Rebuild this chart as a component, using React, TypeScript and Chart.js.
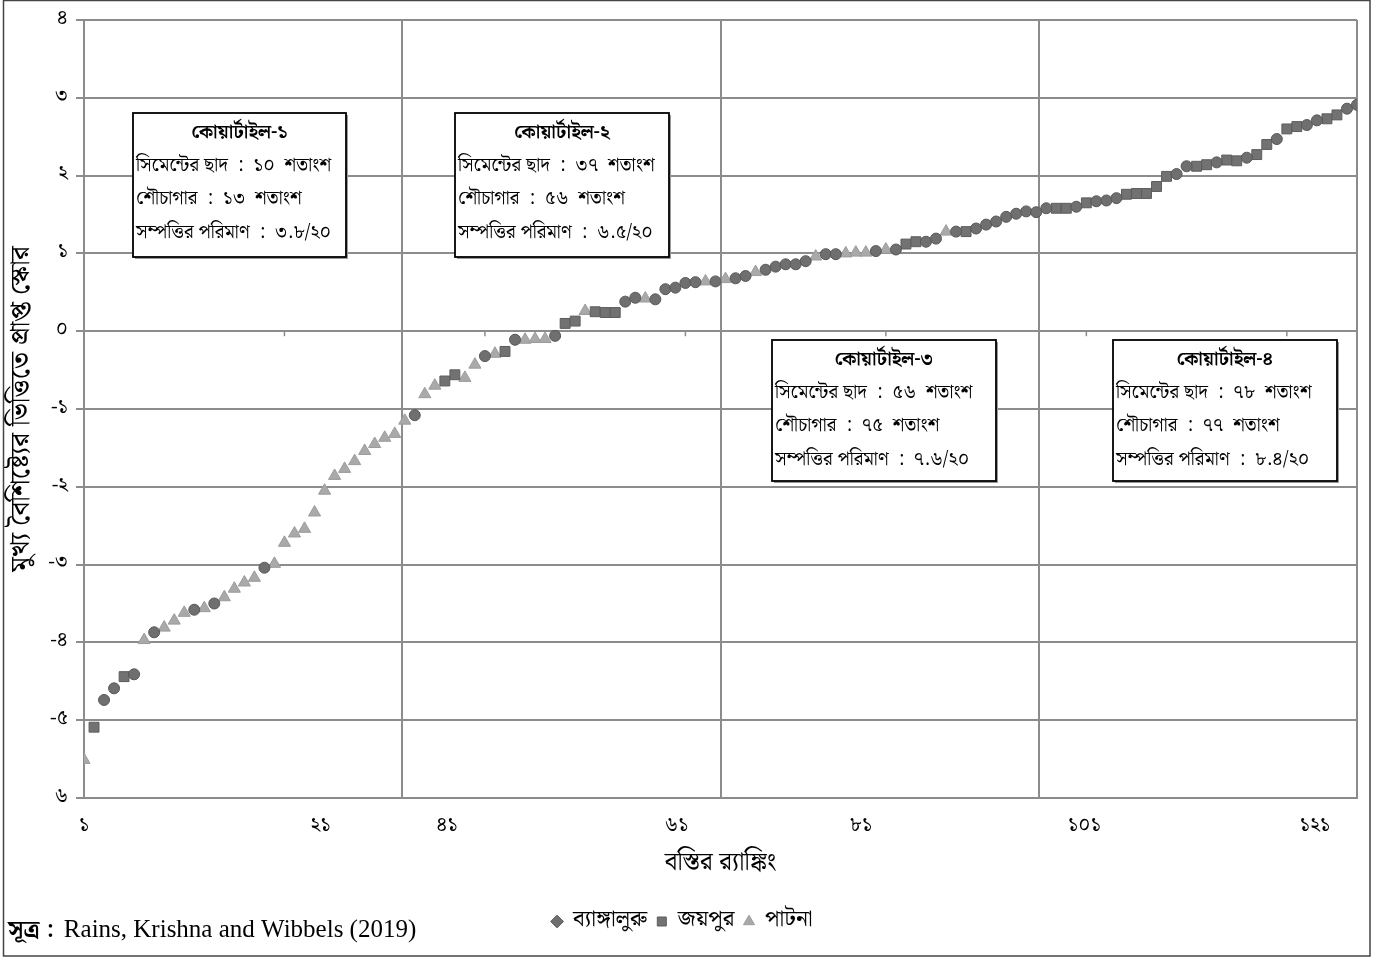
import React, { useEffect, useRef } from 'react';
import { Chart, registerables } from 'chart.js';

Chart.register(...registerables);

const BN = "'Noto Serif Bengali','Noto Sans Bengali','Lohit Bengali','FreeSerif','Noto Sans',sans-serif";
const SERIF = "'Liberation Serif','DejaVu Serif',serif";

// Cities (series)
const seriesNames = ['ব্যাঙ্গালুরু', 'জয়পুর', 'পাটনা'];
const seriesCodes = ['B', 'J', 'P'];

// Score for each slum, in rank order (rank 1 .. 128)
const rankScores = [
  -5.51, -5.09, -4.74, -4.59, -4.44, -4.41, -3.97, -3.87, -3.81, -3.72,
  -3.62, -3.58, -3.56, -3.5, -3.42, -3.31, -3.23, -3.17, -3.04, -2.99,
  -2.72, -2.6, -2.54, -2.33, -2.05, -1.86, -1.77, -1.67, -1.54, -1.45,
  -1.37, -1.32, -1.15, -1.08, -0.81, -0.7, -0.64, -0.56, -0.6, -0.43,
  -0.32, -0.29, -0.26, -0.11, -0.11, -0.1, -0.1, -0.06, 0.1, 0.13,
  0.26, 0.25, 0.24, 0.24, 0.38, 0.43, 0.42, 0.41, 0.54, 0.56,
  0.62, 0.63, 0.64, 0.64, 0.67, 0.68, 0.71, 0.76, 0.79, 0.83,
  0.86, 0.86, 0.9, 0.96, 0.99, 0.99, 1.0, 1.01, 1.01, 1.03,
  1.05, 1.05, 1.12, 1.15, 1.15, 1.19, 1.28, 1.28, 1.28, 1.32,
  1.37, 1.41, 1.47, 1.51, 1.54, 1.53, 1.58, 1.58, 1.58, 1.6,
  1.65, 1.67, 1.68, 1.71, 1.76, 1.77, 1.77, 1.86, 1.99, 2.02,
  2.12, 2.12, 2.14, 2.17, 2.2, 2.19, 2.23, 2.27, 2.4, 2.47,
  2.6, 2.63, 2.65, 2.71, 2.73, 2.78, 2.86, 2.91,
];

// City of each slum, in rank order
const rankCity = [
  'P', 'J', 'B', 'B', 'J', 'B', 'P', 'B', 'P', 'P',
  'P', 'B', 'P', 'B', 'P', 'P', 'P', 'P', 'B', 'P',
  'P', 'P', 'P', 'P', 'P', 'P', 'P', 'P', 'P', 'P',
  'P', 'P', 'P', 'B', 'P', 'P', 'J', 'J', 'P', 'P',
  'B', 'P', 'J', 'B', 'P', 'P', 'P', 'B', 'J', 'J',
  'P', 'J', 'J', 'J', 'B', 'B', 'P', 'B', 'B', 'B',
  'B', 'B', 'P', 'B', 'P', 'B', 'B', 'P', 'B', 'B',
  'B', 'B', 'B', 'P', 'B', 'B', 'P', 'P', 'P', 'B',
  'P', 'B', 'J', 'J', 'B', 'B', 'P', 'B', 'J', 'B',
  'B', 'B', 'B', 'B', 'B', 'B', 'B', 'J', 'J', 'B',
  'J', 'B', 'B', 'B', 'J', 'J', 'J', 'J', 'J', 'B',
  'B', 'J', 'J', 'B', 'J', 'J', 'B', 'J', 'J', 'B',
  'J', 'J', 'B', 'B', 'J', 'J', 'B', 'B',
];

// Axis ticks
const yTickValues = [4, 3, 2, 1, 0, -1, -2, -3, -4, -5, -6];
const yTickLabels = ['৪', '৩', '২', '১', '০', '-১', '-২', '-৩', '-৪', '-৫', '৬'];
const xGridValues = [1, 32.75, 64.5, 96.25, 128];
const xTickValues = [1, 24.6, 37.2, 60.1, 78.5, 100.8, 123.8];
const xTickLabels = ['১', '২১', '৪১', '৬১', '৮১', '১০১', '১২১'];
const xMarkValues = [1, 21, 41, 61, 81, 101, 121];

// Quartile annotation boxes
const quartileTitles = ['কোয়ার্টাইল-১', 'কোয়ার্টাইল-২', 'কোয়ার্টাইল-৩', 'কোয়ার্টাইল-৪'];
const roofShare = ['১০', '৩৭', '৫৬', '৭৮'];
const toiletShare = ['১৩', '৫৬', '৭৫', '৭৭'];
const assetScore = ['৩.৮/২০', '৬.৫/২০', '৭.৬/২০', '৮.৪/২০'];

const sourceLabel = 'সূত্র :';
const sourceText = 'Rains, Krishna and Wibbels (2019)';

const boxRects = [
  { x: 133, y: 113, w: 213, h: 144 },
  { x: 455, y: 113, w: 214, h: 144 },
  { x: 772, y: 340, w: 224, h: 141 },
  { x: 1113, y: 340, w: 224, h: 141 },
];

const styles: Record<string, any> = {
  B: { pointStyle: 'circle', radius: 5.5, bg: '#6f6f6f', border: '#575757', legend: 'rectRot' },
  J: { pointStyle: 'rect', radius: 7, bg: '#727272', border: '#5c5c5c', legend: 'rect' },
  P: { pointStyle: 'triangle', radius: 7, bg: '#a9a9a9', border: '#9c9c9c', legend: 'triangle' },
};

const extrasPlugin = {
  id: 'extras',
  beforeDatasetsDraw(chart: any) {
    const ctx = chart.ctx;
    const x = chart.scales.x;
    const y = chart.scales.y;
    const y0 = y.getPixelForValue(0);
    ctx.save();
    ctx.strokeStyle = '#8c8c8c';
    ctx.lineWidth = 1.5;
    xMarkValues.forEach((v) => {
      const px = x.getPixelForValue(v);
      ctx.beginPath();
      ctx.moveTo(px, y0);
      ctx.lineTo(px, y0 + 5);
      ctx.stroke();
    });
    ctx.restore();
  },
  afterDraw(chart: any) {
    const ctx = chart.ctx;
    ctx.save();
    // annotation boxes
    boxRects.forEach((r, i) => {
      ctx.fillStyle = '#9a9a9a';
      ctx.fillRect(r.x + 2, r.y + 2, r.w, r.h);
      ctx.fillStyle = '#ffffff';
      ctx.fillRect(r.x, r.y, r.w, r.h);
      ctx.strokeStyle = '#000';
      ctx.lineWidth = 1.8;
      ctx.strokeRect(r.x, r.y, r.w, r.h);
      ctx.fillStyle = '#000';
      ctx.textBaseline = 'middle';
      ctx.textAlign = 'center';
      ctx.font = `bold 19px ${BN}`;
      ctx.fillText(quartileTitles[i], r.x + r.w / 2, r.y + 21);
      ctx.textAlign = 'left';
      ctx.font = `19px ${BN}`;
      ctx.fillText(`সিমেন্টের ছাদ  :  ${roofShare[i]}  শতাংশ`, r.x + 3, r.y + 54);
      ctx.fillText(`শৌচাগার  :  ${toiletShare[i]}  শতাংশ`, r.x + 3, r.y + 87);
      ctx.fillText(`সম্পত্তির পরিমাণ  :  ${assetScore[i]}`, r.x + 3, r.y + 121);
    });
    // source
    ctx.textBaseline = 'alphabetic';
    ctx.textAlign = 'left';
    ctx.font = `bold 24px ${BN}`;
    ctx.fillText(sourceLabel, 8, 937);
    const w = ctx.measureText(sourceLabel + ' ').width;
    ctx.font = `25px ${SERIF}`;
    ctx.fillText(sourceText, 8 + w + 4, 937);
    // outer frame
    ctx.strokeStyle = '#444';
    ctx.lineWidth = 1.5;
    ctx.strokeRect(3.5, 0.5, 1366.5, 955.5);
    ctx.restore();
  },
};

export default function App() {
  const ref = useRef<HTMLCanvasElement | null>(null);

  useEffect(() => {
    document.body.style.margin = '0';
    const datasets = seriesCodes.map((code, i) => {
      const st = styles[code];
      const data: { x: number; y: number }[] = [];
      rankScores.forEach((s, k) => {
        if (rankCity[k] === code) data.push({ x: k + 1, y: s });
      });
      return {
        label: seriesNames[i],
        data,
        showLine: false,
        pointStyle: st.pointStyle,
        pointRadius: st.radius,
        pointBackgroundColor: st.bg,
        pointBorderColor: st.border,
        pointBorderWidth: 1,
        backgroundColor: st.bg,
        borderColor: st.border,
      };
    });

    const chart = new Chart(ref.current as HTMLCanvasElement, {
      type: 'scatter',
      data: { datasets },
      plugins: [extrasPlugin],
      options: {
        responsive: false,
        animation: false,
        events: [],
        layout: { padding: { left: 8, right: 31, top: 18, bottom: 17 } },
        scales: {
          x: {
            type: 'linear',
            min: 1,
            max: 128,
            afterFit: (s: any) => {
              s.height = 102;
            },
            afterBuildTicks: (s: any) => {
              const vals = Array.from(new Set([...xGridValues, ...xTickValues])).sort((a, b) => a - b);
              s.ticks = vals.map((v) => ({ value: v }));
            },
            ticks: {
              autoSkip: false,
              maxRotation: 0,
              padding: 17,
              color: '#000',
              font: { family: BN, size: 20 },
              callback: (v: any) => {
                const idx = xTickValues.indexOf(Number(v));
                return idx >= 0 ? xTickLabels[idx] : '';
              },
            },
            grid: {
              drawTicks: false,
              lineWidth: 2,
              color: (c: any) => (c.tick && xGridValues.includes(c.tick.value) ? '#8c8c8c' : 'rgba(0,0,0,0)'),
            },
            border: { display: true, color: '#8c8c8c', width: 2 },
            title: {
              display: true,
              text: 'বস্তির র‍্যাঙ্কিং',
              color: '#000',
              font: { family: BN, size: 25 },
              padding: { top: 0, bottom: 20 },
            },
          },
          y: {
            type: 'linear',
            min: -6,
            max: 4,
            afterFit: (s: any) => {
              s.width = 76;
            },
            afterBuildTicks: (s: any) => {
              s.ticks = yTickValues.map((v) => ({ value: v }));
            },
            ticks: {
              padding: 8,
              color: '#000',
              font: { family: BN, size: 20 },
              callback: (v: any) => {
                const idx = yTickValues.indexOf(Number(v));
                return idx >= 0 ? yTickLabels[idx] : '';
              },
            },
            grid: { color: '#8c8c8c', lineWidth: 2, tickLength: 8 },
            border: { display: true, color: '#8c8c8c', width: 2 },
            title: {
              display: true,
              text: 'মুখ্য বৈশিষ্ট্যের ভিত্তিতে প্রাপ্ত স্কোর',
              color: '#000',
              font: { family: BN, size: 27 },
              padding: { top: 0, bottom: 0 },
            },
          },
        },
        plugins: {
          tooltip: { enabled: false },
          legend: {
            display: true,
            position: 'bottom',
            labels: {
              usePointStyle: true,
              boxWidth: 9,
              boxHeight: 9,
              padding: 10,
              color: '#000',
              font: { family: BN, size: 23 },
              generateLabels: (ch: any) =>
                ch.data.datasets.map((ds: any, i: number) => {
                  const st = styles[seriesCodes[i]];
                  return {
                    text: ds.label,
                    fillStyle: st.bg,
                    strokeStyle: st.border,
                    lineWidth: 1,
                    pointStyle: st.legend,
                    datasetIndex: i,
                    hidden: false,
                    fontColor: '#000',
                  };
                }),
            },
          },
        },
      } as any,
    });
    return () => chart.destroy();
  }, []);

  return (
    <div style={{ width: 1388, height: 960, position: 'relative', background: '#fff' }}>
      <canvas ref={ref} width={1388} height={960} style={{ display: 'block' }} />
    </div>
  );
}
